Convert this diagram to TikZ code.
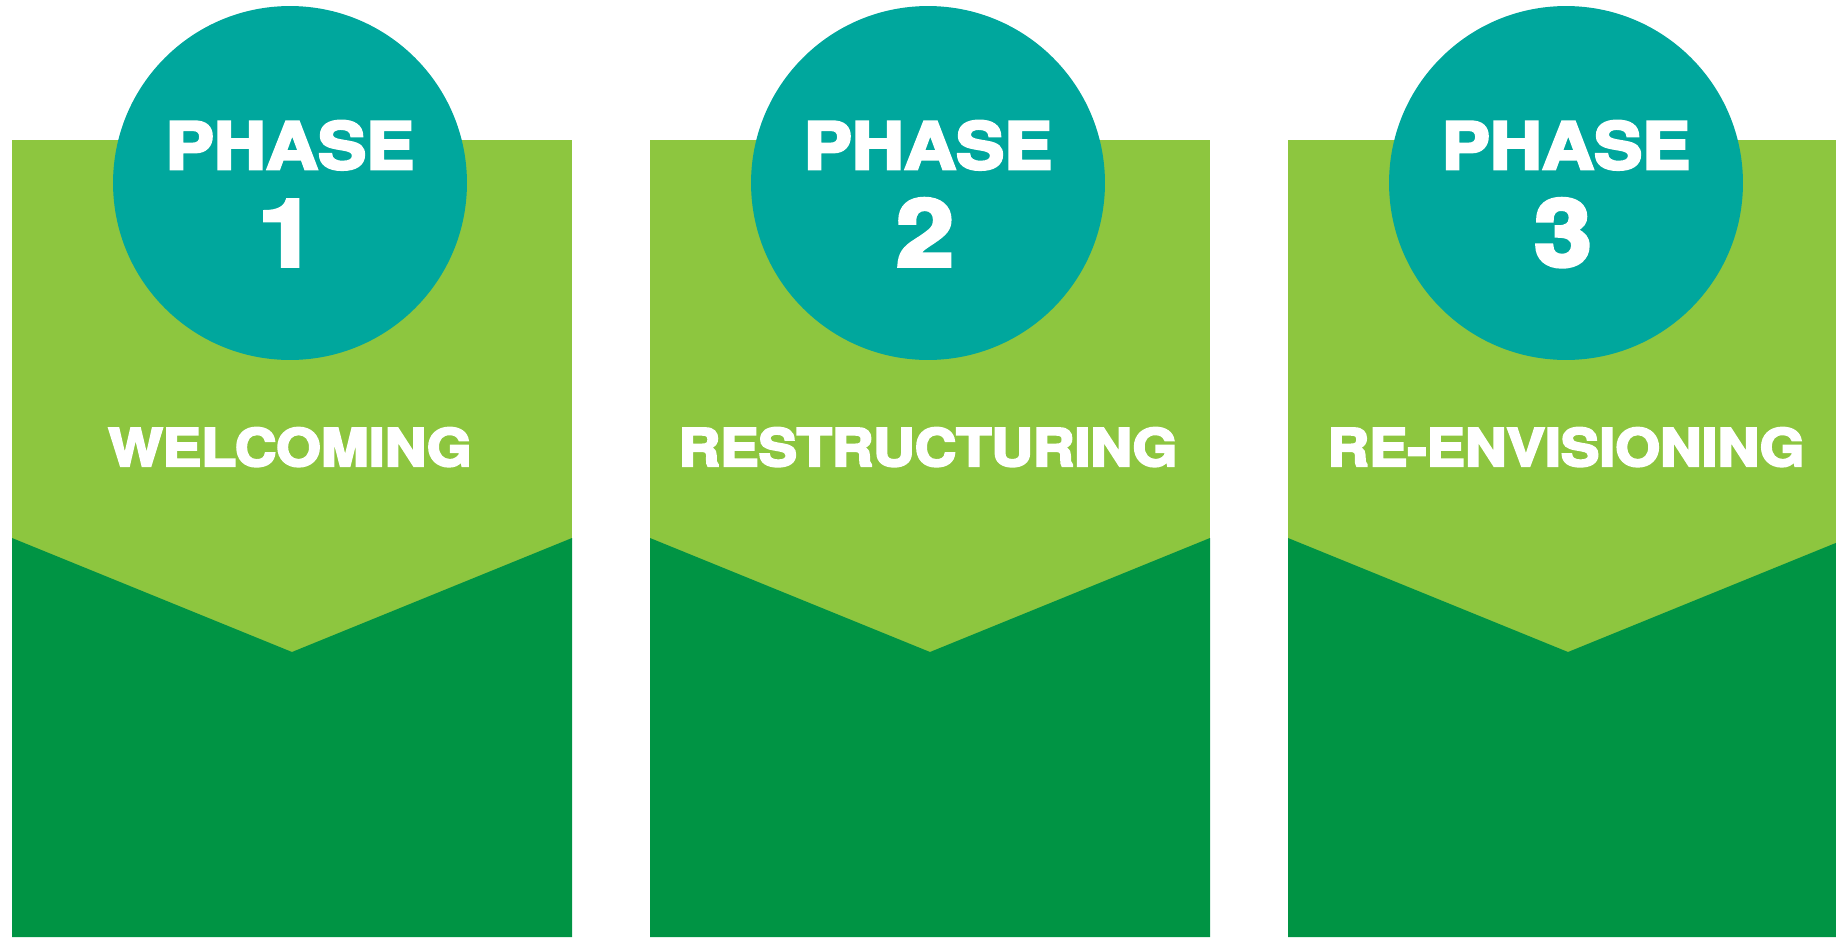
\documentclass[tikz,border=0pt]{standalone}
\usepackage{graphicx}
\usepackage{fontspec}
\newfontfamily\phasefont{TeX Gyre Heros}[BoldFeatures={FakeBold=4}]
\definecolor{phaseteal}{HTML}{00A79D}
\definecolor{lightgrn}{HTML}{8DC63F}
\definecolor{darkgrn}{HTML}{009444}
\newcommand{\wide}[1]{\scalebox{1.11}[1]{#1}}

\begin{document}
\begin{tikzpicture}[x=0.02cm,y=-0.02cm,
	phase/.style={circle,fill=phaseteal,minimum size=7.08cm,inner sep=0pt},
	phasetext/.style={text=white,anchor=base,inner sep=0pt,font=\phasefont\bfseries}
]
\useasboundingbox (0,0) rectangle (1836,937);
\clip (0,0) rectangle (1836,937);

\foreach[count=\i] \x/\t in {0/WELCOMING,638/RESTRUCTURING,1276/RE-ENVISIONING}{
	\fill[lightgrn] (12+\x,140) rectangle (572+\x,937);
	\fill[darkgrn] (12+\x,538) -- (292+\x,652) -- (572+\x,538) -- (572+\x,937) -- (12+\x,937) -- cycle;
	\node[phase](c\i) at(290+\x,183) {};
	\node[phasetext](p\i) at(290+\x,169) {\fontsize{37}{40}\selectfont\wide{PHASE}};
	\node[phasetext](n\i) at(287+\x,266) {\fontsize{53}{56}\selectfont\wide{\i}};
	\node[phasetext](t\i) at(290+\x,466) {\fontsize{29.5}{32}\selectfont\wide{\t}};
}
\end{tikzpicture}
\end{document}
